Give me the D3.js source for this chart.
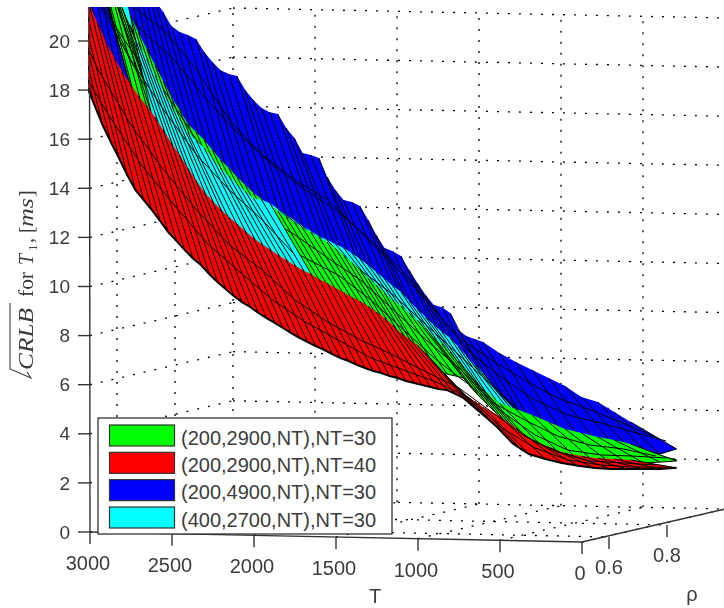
<!DOCTYPE html>
<html>
<head>
<meta charset="utf-8">
<script src="https://cdn.jsdelivr.net/npm/d3@7"></script>
<style>
html, body { margin: 0; padding: 0; background: #fff; }
svg { display: block; filter: blur(0.35px); }
text { font-family: "Liberation Sans", Arial, sans-serif; fill: #3c3c3c; }
</style>
</head>
<body>
<div id="chart"></div>
<script>
// grid of the surfaces, T along the rows (the fine rows sit between them where the mesh is dense)
var tValues = [100,200,300,400,500,600,700,800,900,1000,1100,1200,1300,1400,1500,1600,1700,1800,1900,
    2000,2100,2200,2300,2400,2500,2600,2700,2800,2900,3000,3100,3200,3300,3400,3500,3600,3700];
var tFine = [1050,1150,1250,1350,1450,1550,1650,1750,1850,1950,2050,2150,2250,2350,2450,2550,2650,2750,2850,
    2950,3050,3150,3250,3350,3450,3550,3650];
var midT = [100,300,500,700,900,1100,1300,1500,1700,1900,2100,2300,2500,2700,2900,3100,3300,3500,3700];
var rhoLow = 0.74, rhoMid = 0.82, rhoNear = 0.86, rhoHigh = 0.9;

// CRLB, one array per edge of each surface
var blueLow = [4.33,4.72,5.12,5.31,5.74,6.05,6.37,6.68,7.03,7.47,7.69,8.62,8.93,9.81,10.90,11.21,12.34,13.06,13.53,
    14.82,15.01,16.02,16.65,17.13,18.10,18.32,19.05,19.73,20.08,21.12,22.33,23.54,24.75,25.96,27.16,28.37,29.58];
var blueLowFine = [7.58,7.93,8.85,9.33,10.34,11.09,11.73,12.90,13.13,14.06,14.94,15.62,16.58,16.81,17.53,18.17,18.65,
    19.57,19.84,20.64,21.73,22.93,24.14,25.35,26.56,27.77,28.98];
var blueHigh = [2.84,2.62,2.77,2.92,3.07,3.14,3.29,3.43,3.71,3.98,4.29,4.60,5.20,5.80,6.35,6.99,7.67,8.27,8.79,
    9.38,9.94,10.54,10.93,11.24,11.64,12.03,12.42,12.82,13.41,14.01,14.61,15.41,16.01,16.20,17.20,18.21,19.82];
var blueHighFine = [4.13,4.45,4.88,5.48,6.08,6.67,7.31,7.95,8.50,9.06,9.66,10.21,10.73,11.09,11.44,11.83,12.23,12.62,
    13.14,13.73,14.33,15.01,15.73,16.12,16.72,17.73,19.01];
var blueMid = [3.52,4.06,4.57,5.03,5.73,6.52,7.39,8.91,10.31,11.63,12.90,13.69,14.68,16.08,18.09,19.69,20.68,22.08,23.28];
var blueNear = [3.26,3.60,3.94,4.24,4.82,5.69,6.72,8.33,9.93,11.20,12.32,13.18,14.18,15.37,16.77,18.37,19.57,21.17,21.55];

var greenLow = [3.43,3.58,3.69,3.84,3.99,4.26,4.53,4.76,4.99,5.55,6.27,7.03,7.63,8.30,8.86,9.38,9.97,10.61,11.17,
    11.60,11.96,12.39,12.87,13.34,13.98,14.66,15.46,16.10,17.18,18.48,19.77,21.22,22.71,24.12,25.53,26.95,28.36];
var greenLowFine = [5.91,6.67,7.35,7.99,8.59,9.10,9.70,10.30,10.89,11.41,11.80,12.19,12.63,13.11,13.66,14.34,15.06,
    15.78,16.66,17.83,19.12,20.49,21.99,23.44,24.81,26.26,27.63];
var greenHigh = [2.35,2.29,2.24,2.23,2.21,2.24,2.31,2.46,2.69,3.04,3.56,4.15,4.79,5.55,5.70,5.81,6.57,7.13,7.73,
    8.16,8.55,8.91,9.26,9.65,10.05,10.44,10.87,11.35,12.03,12.71,13.71,14.84,15.60,16.61,18.83,21.46,23.90];
var greenHighFine = [3.28,3.84,4.47,5.15,5.63,5.78,6.25,6.85,7.45,7.96,8.36,8.75,9.10,9.46,9.85,10.24,10.64,11.11,
    11.67,12.35,13.19,14.28,15.20,16.12,17.62,20.17,22.68];
var greenMid = [2.75,3.01,3.14,3.48,4.11,4.81,6.17,7.28,8.48,9.67,10.54,11.45,12.24,13.64,15.24,17.25,18.85,20.86,22.46];
var greenNear = [2.57,2.62,2.64,2.81,3.40,4.31,5.38,6.37,7.56,8.76,9.75,10.41,11.12,12.11,13.51,15.52,17.53,19.95,21.96];

var cyanLow = [3.27,3.42,3.53,3.68,3.82,4.10,4.37,4.68,5.36,6.20,6.88,7.60,8.12,8.75,9.43,9.95,10.50,10.98,11.33,
    11.64,12.04,12.48,12.95,13.14,13.70,14.33,15.14,15.77,16.86,18.07,19.36,20.77,22.30,23.92,25.13,26.34,27.55];
var cyanLowFine = [6.52,7.24,7.84,8.44,9.07,9.67,10.23,10.74,11.18,11.49,11.84,12.28,12.71,13.07,13.42,14.02,14.74,
    15.45,16.34,17.47,18.71,20.08,21.54,23.11,24.52,25.73,26.94];
var cyanHigh = [2.39,2.46,2.57,2.68,2.78,2.89,3.04,3.19,3.42,3.69,4.09,4.36,5.08,5.80,6.27,6.75,7.47,8.06,8.74,
    9.26,9.86,10.46,9.34,9.73,10.13,10.52,10.96,11.43,12.11,12.79,13.80,14.92,16.01,19.05,21.88,23.91,25.53];
var cyanHighFine = [3.89,4.20,4.76,5.44,6.04,6.51,7.11,7.79,8.42,9.02,9.58,10.17,10.65,9.54,9.93,10.32,10.76,11.19,
    11.79,12.47,13.27,14.36,15.49,17.42,20.67,22.90,24.72];
var cyanMid = [2.75,3.09,3.34,3.73,4.31,5.50,6.70,7.89,9.09,10.08,11.07,10.63,12.04,13.23,14.63,16.43,18.44,21.27,22.87];

var redLow = [2.78,2.81,2.83,2.90,3.01,3.24,3.52,3.99,4.46,4.82,5.25,5.89,6.61,7.29,7.76,8.36,8.83,9.19,9.54,
    9.89,10.25,10.64,11.07,11.51,12.07,12.66,13.34,14.31,15.31,16.36,17.20,18.16,19.37,20.87,22.07,23.48,24.69];
var redLowFine = [5.05,5.57,6.25,6.97,7.53,8.08,8.60,9.03,9.38,9.74,10.09,10.44,10.84,11.27,11.79,12.35,12.98,13.82,
    14.83,15.84,16.80,17.68,18.77,20.14,21.47,22.76,24.09];
var redHigh = [2.07,2.01,2.00,1.98,1.97,2.00,2.07,2.17,2.32,2.51,2.94,3.62,4.18,4.74,5.05,5.16,5.31,5.50,5.69,
    5.88,6.15,6.42,6.73,7.05,7.44,7.83,8.27,8.70,9.26,9.94,10.54,11.25,12.14,12.94,14.23,15.56,17.18];
var redHighFine = [2.71,3.27,3.90,4.46,4.90,5.08,5.23,5.38,5.57,5.76,6.00,6.26,6.58,6.89,7.24,7.64,8.03,8.46,8.98,
    9.58,10.21,10.90,11.70,12.54,13.54,14.87,16.37];
var redMid = [2.38,2.44,2.49,2.83,3.45,4.40,5.36,5.98,6.64,7.23,7.93,8.80,10.00,10.99,12.39,13.99,15.80,18.01,20.83];
var redNear = [2.20,2.17,2.23,2.41,2.87,3.65,4.85,5.47,5.93,6.40,7.10,7.81,8.68,9.79,10.94,12.47,14.07,16.08,18.29];

// axes
var zTicks = [0,2,4,6,8,10,12,14,16,18,20];
var tTicks = [3000,2500,2000,1500,1000,500,0];
var rhoTicks = [0.6,0.8];

var legendLabels = ["(200,2900,NT),NT=30","(200,2900,NT),NT=40","(200,4900,NT),NT=30","(400,2700,NT),NT=30"];
var legendColors = ["#00ff00","#ff0000","#0000ff","#00ffff"];

var width = 724, height = 608;

var svg = d3.select("#chart").append("svg")
    .attr("width", width)
    .attr("height", height);

// the view is an oblique projection: each axis adds its own offset
var xT = d3.scaleLinear().domain([0,3000]).range([582,90]);
var yT = d3.scaleLinear().domain([0,3000]).range([10,0]);
var xR = d3.scaleLinear().domain([0.517,0.6,0.74,0.8,0.9,1]).range([0,27,65,85,111,143]);
var yR = d3.scaleLinear().domain([0.517,0.9,1]).range([0,-23,-33]);
var zS = d3.scaleLinear().domain([0,20]).range([532,41]);

function project(t, r, z) {
    return [xT(t) + xR(r), zS(z) + yT(t) + yR(r)];
}

var path = d3.line();

svg.append("defs").append("clipPath").attr("id", "plot")
    .append("rect").attr("x", 88).attr("y", 7).attr("width", 640).attr("height", 600);

// dotted grid on the walls and the floor
var grid = svg.append("g")
    .attr("fill", "none")
    .attr("stroke", "#000")
    .attr("stroke-width", 1.3)
    .attr("stroke-dasharray", "2,9");

function gridLine(a, b) {
    grid.append("path").attr("d", path([a, b]));
}
zTicks.forEach(function(z) {
    gridLine(project(3000,1,z), project(0,1,z));
    gridLine(project(3000,0.517,z), project(3000,1,z));
});
tTicks.forEach(function(t) {
    gridLine(project(t,1,0), project(t,1,20));
    gridLine(project(t,0.517,0), project(t,1,0));
});
rhoTicks.forEach(function(r) {
    gridLine(project(3000,r,0), project(3000,r,20));
    gridLine(project(3000,r,0), project(0,r,0));
});

// surfaces back to front; cyan goes behind green below T=2300 and in front above it
var layers = [
    {low: blueLow, lowFine: blueLowFine, high: blueHigh, highFine: blueHighFine, color: "#0000ff", from: 100, to: 3700,
        mids: [[rhoMid, blueMid], [rhoNear, blueNear]]},
    {low: cyanLow, lowFine: cyanLowFine, high: cyanHigh, highFine: cyanHighFine, color: "#00ffff", from: 100, to: 2300,
        mids: [[rhoMid, cyanMid]]},
    {low: greenLow, lowFine: greenLowFine, high: greenHigh, highFine: greenHighFine, color: "#00ff00", from: 100, to: 3700,
        mids: [[rhoMid, greenMid], [rhoNear, greenNear]]},
    {low: cyanLow, lowFine: cyanLowFine, high: cyanHigh, highFine: cyanHighFine, color: "#00ffff", from: 2300, to: 3700,
        mids: [[rhoMid, cyanMid]]},
    {low: redLow, lowFine: redLowFine, high: redHigh, highFine: redHighFine, color: "#ff0000", from: 100, to: 3700,
        mids: [[rhoMid, redMid], [rhoNear, redNear]]}
];

var surfaces = svg.append("g").attr("clip-path", "url(#plot)");

layers.forEach(function(layer) {
    var coarse = tValues.map(function(t, i) {
        return {t: t, a: project(t, rhoLow, layer.low[i]), b: project(t, rhoHigh, layer.high[i])};
    });
    var fine = tFine.map(function(t, i) {
        return {t: t, a: project(t, rhoLow, layer.lowFine[i]), b: project(t, rhoHigh, layer.highFine[i])};
    });
    var rows = coarse.concat(fine)
        .filter(function(d) { return d.t >= layer.from && d.t <= layer.to; })
        .sort(function(p, q) { return d3.ascending(p.t, q.t); });

    var g = surfaces.append("g");

    g.append("path")
        .attr("d", path(rows.map(function(d) { return d.a; }).concat(rows.map(function(d) { return d.b; }).reverse())) + "Z")
        .attr("fill", layer.color)
        .attr("stroke", "none");

    g.selectAll(".row").data(rows).enter().append("path")
        .attr("class", "row")
        .attr("d", function(d) { return path([d.a, d.b]); })
        .attr("fill", "none")
        .attr("stroke", "#000")
        .attr("stroke-width", 1);

    layer.mids.forEach(function(m) {
        var pts = midT.map(function(t, i) { return {t: t, p: project(t, m[0], m[1][i])}; })
            .filter(function(d) { return d.t >= layer.from && d.t <= layer.to; })
            .map(function(d) { return d.p; });
        g.append("path").attr("d", path(pts)).attr("fill", "none").attr("stroke", "#000").attr("stroke-width", 1);
    });

    g.append("path")
        .attr("d", path(rows.map(function(d) { return d.b; })))
        .attr("fill", "none")
        .attr("stroke", "#000")
        .attr("stroke-width", layer.color == "#ff0000" ? 2 : 1);
});

// axes
var axis = svg.append("g").attr("fill", "none").attr("stroke", "#333").attr("stroke-width", 1.4);
axis.append("path").attr("d", path([project(3000,0.517,0), [89.5,7]]));
axis.append("path").attr("d", path([project(3000,0.517,0), project(0,0.517,0), project(0,1,0)]));

zTicks.forEach(function(z) {
    var p = project(3000,0.517,z);
    axis.append("path").attr("d", path([[p[0]-12, p[1]], p]));
    svg.append("text").attr("x", 70).attr("y", p[1]).attr("dy", ".35em")
        .attr("text-anchor", "end").style("font-size", "19px").text(z);
});
tTicks.forEach(function(t) {
    var p = project(t,0.517,0);
    axis.append("path").attr("d", path([p, [p[0], p[1]+12]]));
    svg.append("text").attr("x", p[0]-2).attr("y", p[1]+38)
        .attr("text-anchor", "middle").style("font-size", "20px").text(t);
});
rhoTicks.forEach(function(r) {
    var p = project(0,r,0);
    axis.append("path").attr("d", path([p, [p[0], p[1]+12]]));
    svg.append("text").attr("x", p[0]).attr("y", p[1]+37)
        .attr("text-anchor", "middle").style("font-size", "20px").text(r);
});

svg.append("text").attr("x", 375).attr("y", 603).attr("text-anchor", "middle").style("font-size", "20px").text("T");
svg.append("text").attr("x", 692).attr("y", 601).attr("text-anchor", "middle").style("font-size", "20px").text("ρ");

// z label, each piece placed along the rotated baseline, radical drawn by hand
var zLabel = svg.append("text")
    .attr("transform", "translate(33,370) rotate(-90)")
    .style("font-family", "'Liberation Serif', serif")
    .style("font-size", "20px");
zLabel.append("tspan").attr("x", 0).attr("textLength", 62).attr("lengthAdjust", "spacingAndGlyphs")
    .style("font-style", "italic").text("CRLB");
zLabel.append("tspan").attr("x", 73).attr("textLength", 25).attr("lengthAdjust", "spacingAndGlyphs").text("for");
zLabel.append("tspan").attr("x", 105).style("font-style", "italic").text("T");
zLabel.append("tspan").attr("x", 119).attr("dy", 4).style("font-size", "13px").text("1");
zLabel.append("tspan").attr("x", 127).attr("dy", -4).text(",");
zLabel.append("tspan").attr("x", 137).text("[");
zLabel.append("tspan").attr("x", 143).attr("textLength", 29).attr("lengthAdjust", "spacingAndGlyphs")
    .style("font-style", "italic").text("ms");
zLabel.append("tspan").attr("x", 173).text("]");

svg.append("path")
    .attr("d", path([[10,303],[10,369],[31,378],[27,372]]))
    .attr("fill", "none").attr("stroke", "#3c3c3c").attr("stroke-width", 1.1);

// legend
var legend = svg.append("g");
legend.append("rect")
    .attr("x", 98).attr("y", 418).attr("width", 294).attr("height", 116)
    .attr("fill", "#fff").attr("stroke", "#333").attr("stroke-width", 1.3);

var legendY = d3.scalePoint().domain(d3.range(legendLabels.length)).range([435.5,517.5]);

legendLabels.forEach(function(label, i) {
    legend.append("rect")
        .attr("x", 109.5).attr("y", legendY(i) - 10.5).attr("width", 65).attr("height", 21)
        .attr("fill", legendColors[i]).attr("stroke", "#333").attr("stroke-width", 1.2);
    legend.append("text")
        .attr("x", 181).attr("y", legendY(i) + 2).attr("dy", ".35em")
        .style("font-size", "20px").text(label);
});
</script>
</body>
</html>
